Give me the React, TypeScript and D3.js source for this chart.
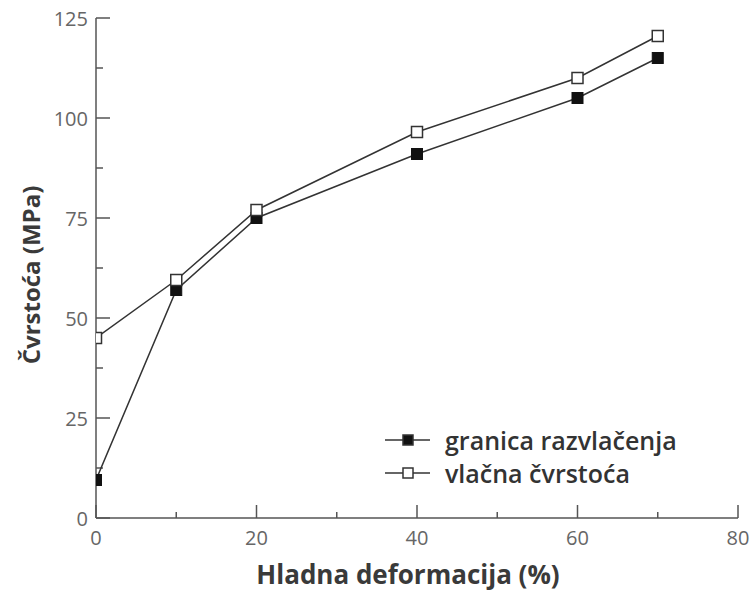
import React from "react";
import * as d3 from "d3";

const deformation = [0, 10, 20, 40, 60, 70];
const yieldStrength = [9.5, 57, 75, 91, 105, 115];
const tensileStrength = [45, 59.5, 77, 96.5, 110, 120.5];
const xTicks = [0, 20, 40, 60, 80];
const yTicks = [0, 25, 50, 75, 100, 125];

const seriesNames = ["granica razvlačenja", "vlačna čvrstoća"];

export default function App() {
  const width = 753;
  const height = 594;
  const margin = { top: 18, right: 15, bottom: 76, left: 96 };
  const innerWidth = width - margin.left - margin.right;
  const innerHeight = height - margin.top - margin.bottom;

  const xScale = d3.scaleLinear().domain([0, 80]).range([0, innerWidth]);
  const yScale = d3.scaleLinear().domain([0, 125]).range([innerHeight, 0]);

  const line = d3
    .line<number>()
    .x((_, i) => xScale(deformation[i]))
    .y((d) => yScale(d));

  const xMinor = d3.range(0, 81, 10).filter((t) => t % 20 !== 0);
  const yMinor = d3.range(0, 126, 12.5).filter((t) => t % 25 !== 0);

  const axisColor = "#555";
  const textColor = "#3a3a3a";
  const ms = 11;

  return (
    <svg
      width={width}
      height={height}
      style={{ position: "absolute", left: 0, top: 0, background: "#fff" }}
      fontFamily="'Open Sans', sans-serif"
    >
      <defs>
        <clipPath id="plot-clip">
          <rect x={0} y={-20} width={innerWidth + 20} height={innerHeight + 20} />
        </clipPath>
      </defs>
      <g transform={`translate(${margin.left},${margin.top})`}>
        {/* axes */}
        <g stroke={axisColor} strokeWidth={1.5}>
          <line x1={0} y1={0} x2={0} y2={innerHeight} />
          <line x1={0} y1={innerHeight} x2={innerWidth} y2={innerHeight} />
          {yTicks.map((t) => (
            <line key={"y" + t} x1={0} x2={14} y1={yScale(t)} y2={yScale(t)} />
          ))}
          {yMinor.map((t) => (
            <line key={"ym" + t} x1={0} x2={7} y1={yScale(t)} y2={yScale(t)} />
          ))}
          {xTicks.map((t) => (
            <line
              key={"x" + t}
              x1={xScale(t)}
              x2={xScale(t)}
              y1={innerHeight}
              y2={innerHeight - 13}
            />
          ))}
          {xMinor.map((t) => (
            <line
              key={"xm" + t}
              x1={xScale(t)}
              x2={xScale(t)}
              y1={innerHeight}
              y2={innerHeight - 6}
            />
          ))}
        </g>

        {/* tick labels */}
        <g fill="#666" fontSize={20}>
          {yTicks.map((t) => (
            <text
              key={"yl" + t}
              x={-8}
              y={yScale(t)}
              textAnchor="end"
              dominantBaseline="central"
            >
              {t}
            </text>
          ))}
          {xTicks.map((t) => (
            <text key={"xl" + t} x={xScale(t)} y={innerHeight + 27} textAnchor="middle">
              {t}
            </text>
          ))}
        </g>

        {/* series */}
        <g clipPath="url(#plot-clip)">
          <path d={line(yieldStrength) ?? ""} fill="none" stroke="#333" strokeWidth={1.5} />
          <path d={line(tensileStrength) ?? ""} fill="none" stroke="#333" strokeWidth={1.5} />
          {yieldStrength.map((v, i) => (
            <rect
              key={"ys" + i}
              x={xScale(deformation[i]) - ms / 2}
              y={yScale(v) - ms / 2}
              width={ms}
              height={ms}
              fill="#111"
              stroke="#111"
            />
          ))}
          {tensileStrength.map((v, i) => (
            <rect
              key={"ts" + i}
              x={xScale(deformation[i]) - ms / 2}
              y={yScale(v) - ms / 2}
              width={ms}
              height={ms}
              fill="#fff"
              stroke="#333"
              strokeWidth={1.5}
            />
          ))}
        </g>

        {/* legend */}
        <g transform={`translate(${385 - margin.left},${440 - margin.top})`}>
          {seriesNames.map((name, i) => (
            <g key={name} transform={`translate(0,${i * 33})`}>
              <line x1={0} x2={45} y1={0} y2={0} stroke="#333" strokeWidth={1.5} />
              <rect
                x={23 - 5}
                y={-5}
                width={10}
                height={10}
                fill={i === 0 ? "#111" : "#fff"}
                stroke="#333"
                strokeWidth={1.5}
              />
              <text x={60} y={0} dominantBaseline="central" fontSize={25} fill="#333" fontWeight={600}>
                {name}
              </text>
            </g>
          ))}
        </g>

        {/* axis titles */}
        <text
          x={408 - margin.left}
          y={584 - margin.top}
          textAnchor="middle"
          fontSize={26}
          fontWeight={700}
          fill={textColor}
        >
          Hladna deformacija (%)
        </text>
        <text
          transform={`translate(${30 - margin.left},${275 - margin.top}) rotate(-90)`}
          textAnchor="middle"
          dominantBaseline="central"
          fontSize={24}
          fontWeight={700}
          fill={textColor}
        >
          Čvrstoća (MPa)
        </text>
      </g>
    </svg>
  );
}
